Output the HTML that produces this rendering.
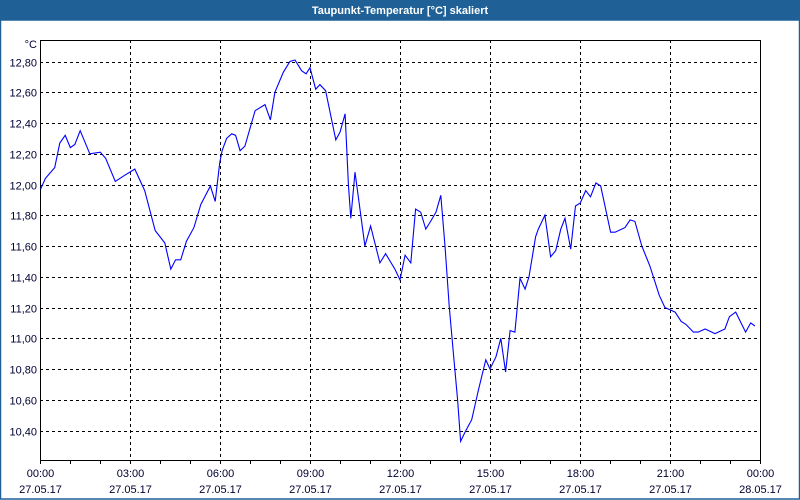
<!DOCTYPE html>
<html><head><meta charset="utf-8"><style>
html,body{margin:0;padding:0;background:#fff;}
svg{display:block;font-family:"Liberation Sans",sans-serif;}
</style></head><body>
<svg id="chart" width="800" height="500" viewBox="0 0 800 500">
<rect x="0" y="0" width="800" height="500" fill="#fff"/>
<rect x="0" y="0" width="800" height="20" fill="#1f6197"/>
<text x="400" y="14" text-anchor="middle" fill="#fff" font-size="11" font-weight="bold">Taupunkt-Temperatur [°C] skaliert</text>
<rect x="0.5" y="20" width="799" height="479" fill="none" stroke="#1f6197" stroke-width="1.5"/>
<g id="grid"></g>
<g id="axes"></g>
<g id="series"></g>
<text x="37" y="48" text-anchor="end" font-size="11" fill="#000033">°C</text>
</svg>
<script>
const hours = [0.02,0.18,0.49,0.66,0.84,1.01,1.16,1.34,1.66,2.01,2.19,2.51,2.82,3.16,3.49,3.84,4.16,4.36,4.52,4.69,4.88,5.13,5.36,5.68,5.84,5.99,6.07,6.22,6.39,6.52,6.67,6.83,7.17,7.50,7.68,7.83,8.11,8.33,8.50,8.72,8.87,9.00,9.19,9.33,9.52,9.86,10.00,10.17,10.28,10.36,10.50,10.83,11.02,11.33,11.52,11.83,12.00,12.17,12.36,12.52,12.69,12.86,13.02,13.20,13.36,13.50,13.64,13.78,13.92,14.02,14.17,14.39,14.61,14.86,15.00,15.20,15.36,15.52,15.67,15.83,16.00,16.17,16.30,16.52,16.61,16.83,17.02,17.19,17.36,17.50,17.69,17.85,18.01,18.19,18.35,18.53,18.69,19.02,19.17,19.50,19.67,19.83,20.06,20.33,20.64,20.83,21.17,21.37,21.53,21.78,21.94,22.17,22.50,22.83,22.98,23.19,23.52,23.69,23.83];
const temps = [11.97,12.04,12.11,12.27,12.32,12.24,12.26,12.35,12.20,12.21,12.17,12.02,12.06,12.10,11.96,11.70,11.62,11.45,11.51,11.51,11.63,11.72,11.87,11.99,11.89,12.14,12.22,12.30,12.33,12.32,12.22,12.25,12.48,12.52,12.42,12.60,12.73,12.80,12.81,12.74,12.72,12.76,12.62,12.65,12.61,12.29,12.34,12.46,12.00,11.78,12.08,11.60,11.73,11.49,11.55,11.45,11.38,11.54,11.49,11.84,11.82,11.71,11.76,11.82,11.93,11.60,11.21,10.90,10.60,10.33,10.39,10.47,10.66,10.86,10.80,10.88,11.00,10.78,11.05,11.04,11.39,11.32,11.40,11.66,11.71,11.80,11.53,11.57,11.71,11.78,11.58,11.86,11.88,11.96,11.92,12.01,11.99,11.69,11.69,11.72,11.77,11.76,11.60,11.47,11.28,11.20,11.17,11.11,11.09,11.04,11.04,11.06,11.03,11.06,11.14,11.17,11.04,11.10,11.08];
const yTicks = [10.4,10.6,10.8,11.0,11.2,11.4,11.6,11.8,12.0,12.2,12.4,12.6,12.8];
const yTickLabels = ["10,40","10,60","10,80","11,00","11,20","11,40","11,60","11,80","12,00","12,20","12,40","12,60","12,80"];
const xTicks = [0,3,6,9,12,15,18,21,24];
const xTimeLabels = ["00:00","03:00","06:00","09:00","12:00","15:00","18:00","21:00","00:00"];
const xDateLabels = ["27.05.17","27.05.17","27.05.17","27.05.17","27.05.17","27.05.17","27.05.17","27.05.17","28.05.17"];

const L=40,R=760,T=40,B=460;
const X0=0,X1=24;
const Y12_8=61.5, PXPER=153.75;
function xs(h){return L+(h-X0)/(X1-X0)*(R-L);}
function ys(v){return Y12_8+(12.8-v)*PXPER;}
const NS="http://www.w3.org/2000/svg";
const grid=document.getElementById('grid'),axes=document.getElementById('axes'),series=document.getElementById('series');
function mk(tag,attrs,parent){const e=document.createElementNS(NS,tag);for(const k in attrs)e.setAttribute(k,attrs[k]);parent.appendChild(e);return e;}

yTicks.forEach((v,i)=>{
  const y=Math.round(ys(v))+0.5;
  const g=mk('line',{x1:L,x2:R,y1:y,y2:y,stroke:'#000','stroke-dasharray':'3,3','stroke-width':1},grid);
  
  
  const t=mk('text',{x:37,y:y+4,'text-anchor':'end','font-size':11,fill:'#000033'},axes);
  t.textContent=yTickLabels[i];
  
  
});
xTicks.forEach((h,i)=>{
  const x=Math.round(xs(h))+0.5;
  if(i>0&&i<xTicks.length-1){
    const g=mk('line',{x1:x,x2:x,y1:T,y2:B,stroke:'#000','stroke-dasharray':'3,3','stroke-width':1},grid);
    
    
  }
  const t1=mk('text',{x:x,y:477,'text-anchor':'middle','font-size':11,fill:'#000033'},axes);
  t1.textContent=xTimeLabels[i];
  
  
  const t2=mk('text',{x:x,y:493,'text-anchor':'middle','font-size':11,fill:'#000033'},axes);
  t2.textContent=xDateLabels[i];
  
  
});
for(let h=0;h<=24;h++){
  const x=Math.round(xs(h))+0.5;
  const tk=mk('line',{x1:x,x2:x,y1:B,y2:B+4,stroke:'#000','stroke-width':1},axes);
  
  
}
const frame=mk('rect',{x:L+0.5,y:T+0.5,width:R-L,height:B-T,fill:'none',stroke:'#000','stroke-width':1},axes);



const pts=hours.map((h,i)=>xs(h).toFixed(1)+','+ys(temps[i]).toFixed(1)).join(' ');
const line=mk('polyline',{points:pts,fill:'none',stroke:'#0000ff','stroke-width':1.1,'stroke-linejoin':'miter'},series);


</script>
</body></html>
